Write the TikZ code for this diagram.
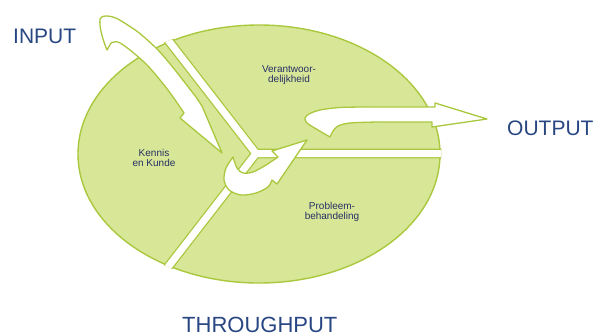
\documentclass[tikz,border=0pt]{standalone}
\usepackage{fontspec}
\setmainfont{Liberation Sans}
\definecolor{lg}{RGB}{216,230,152}
\definecolor{dg}{RGB}{170,200,62}
\definecolor{tb}{RGB}{40,70,130}
\definecolor{tn}{RGB}{38,48,100}
\tikzset{
  seg/.style={fill=lg, draw=dg, line width=1.4pt},
  arr/.style={fill=white, draw=dg, line width=1.3pt, line join=round},
  big/.style={anchor=base west, inner sep=0pt, text=tb, font=\fontsize{21}{21}\selectfont},
  lbl/.style={align=center, inner sep=0pt, text=tn, font=\fontsize{10}{10.3}\selectfont}
}
\begin{document}
\begin{tikzpicture}[x=1pt,y=-1pt]
\useasboundingbox (0,0) rectangle (601,333);
\coordinate (J) at (256,153.5);
\coordinate (gT) at (158,27);
\coordinate (gR) at (455,153.5);
\coordinate (gB) at (158,280);
% ellipse with gaps
\begin{scope}
  \clip (259,154) ellipse [x radius=182.5pt, y radius=130.5pt];
  \path[seg] (259,154) ellipse [x radius=181pt, y radius=129pt];
  \draw[dg, line width=9.6pt, line join=miter, line cap=round] (gT) -- (J) -- (gR) (J) -- (gB);
  \draw[white, line width=7pt, line join=miter, line cap=round] (gT) -- (J) -- (gR) (J) -- (gB);
\end{scope}
% INPUT arrow
\path[arr] (107,50) .. controls (103,40) and (99,28) .. (100,19)
  .. controls (101,15) and (110,15) .. (118,19)
  -- plot[smooth] coordinates {(118,19) (138,32) (158,50) (175,70) (196,97)}
  -- (202,106) -- (222,153) -- (180,118) -- (184,113)
  -- plot[smooth] coordinates {(184,113) (168,90) (148,66) (130,50) (118,42) (111,43)}
  -- cycle;
% THROUGHPUT arrow
\path[arr] (233,157)
  -- plot[smooth] coordinates {(233,157) (226,168) (224,180) (229,190) (241,195) (256,193) (268,187) (272,180)}
  -- (277,184) -- (307,140) -- (272,151) -- (278,157)
  -- plot[smooth] coordinates {(278,157) (266,165) (253,172) (243,173) (237,168) (233,157)}
  -- cycle;
% OUTPUT arrow
\path[arr] (330,137)
  -- plot[smooth] coordinates {(330,137) (318,130) (307,123) (305,118) (309,114) (320,110) (340,107.5) (370,107) (435,107)}
  -- (435,103) -- (487,119) -- (432,127) -- (432,122)
  -- plot[smooth] coordinates {(432,122) (380,122) (350,123) (338,126) (333,131) (330,137)}
  -- cycle;
% labels
\node[lbl] (v) at (289,75) {Verantwoor-\\delijkheid};
\node[lbl] (k) at (154,158) {Kennis\\en Kunde};
\node[lbl] (p) at (332,212) {Probleem-\\behandeling};
\node[big] (in) at (13,43) {INPUT};
\node[big] (out) at (507,135) {OUTPUT};
\node[big, font=\fontsize{22}{22}\selectfont] (thr) at (182,332) {THROUGHPUT};
\end{tikzpicture}
\end{document}
